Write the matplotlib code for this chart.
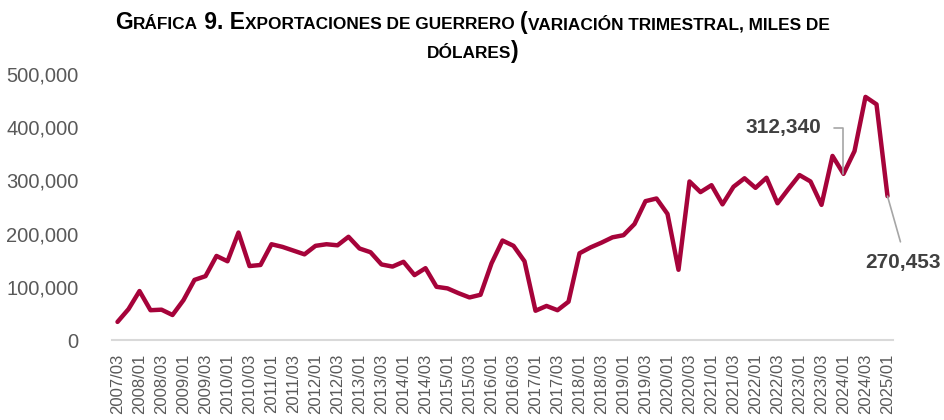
import matplotlib

matplotlib.use("Agg")
import matplotlib.pyplot as plt
import numpy as np

# ---- data (miles de dólares, trimestral 2007/03 .. 2025/01) -----------------
periods = [f"{y}/{q:02d}" for y in range(2007, 2026) for q in (1, 2, 3, 4)]
periods = periods[periods.index("2007/03"):periods.index("2025/01") + 1]
exports = [
    34000, 58000, 92000, 56000, 57000, 47000, 75000, 113000, 120000, 158000,
    148000, 202000, 139000, 141000, 180000, 175000, 168000, 161000, 177000, 180000,
    178000, 194000, 172000, 165000, 142000, 138000, 147000, 122000, 135000, 100000,
    97000, 88000, 80000, 85000, 144000, 187000, 177000, 148000, 55000, 64000,
    56000, 72000, 163000, 174000, 183000, 193000, 197000, 218000, 261000, 266000,
    237000, 132000, 298000, 278000, 291000, 255000, 288000, 304000, 286000, 305000,
    257000, 284000, 310000, 298000, 254000, 346000, 312340, 355000, 457000, 443000,
    270453,
]
y_ticks = [0, 100000, 200000, 300000, 400000, 500000]
callouts = ["2024/01", "2025/01"]

LINE = "#A6033A"
TICK = "#595959"
LABEL = "#404040"
LEADER = "#A6A6A6"
AXIS = "#D9D9D9"
SANS = ["Liberation Sans", "DejaVu Sans"]
NARROW = ["Liberation Sans Narrow", "Liberation Sans", "DejaVu Sans"]

plt.rcParams["font.family"] = SANS

fig = plt.figure(figsize=(9.45, 4.2), dpi=100)
ax = fig.add_axes((112 / 945, 1 - 340 / 420, 781 / 945, 266 / 420))

x = np.arange(len(exports))
ax.plot(x, exports, color=LINE, lw=3.2, solid_joinstyle="round", solid_capstyle="round", zorder=3)

ax.set_xlim(-0.5, len(exports) - 0.5)
ax.set_ylim(0, 500000)
ax.set_yticks(y_ticks)
ax.set_yticklabels([f"{v:,}" for v in y_ticks], fontsize=14.5, color=TICK)
ax.set_xticks(x[::2])
ax.set_xticklabels(periods[::2], rotation=90, fontsize=12, color=TICK)
ax.tick_params(axis="y", length=0, pad=24)
ax.tick_params(axis="x", length=0, pad=10)
for side in ("top", "right", "left"):
    ax.spines[side].set_visible(False)
ax.spines["bottom"].set_color(AXIS)
ax.spines["bottom"].set_linewidth(1.5)

# callouts with grey leaders
i1 = periods.index(callouts[0])
ax.annotate(
    f"{exports[i1]:,}", xy=(i1, exports[i1]), xytext=(-22, 46), textcoords="offset pixels",
    ha="right", va="center", fontsize=15, fontweight="bold", color=LABEL,
    arrowprops=dict(arrowstyle="-", color=LEADER, lw=1.2, relpos=(1, 0.5),
                    connectionstyle="angle,angleA=0,angleB=90,rad=0", shrinkA=7, shrinkB=0),
)
i2 = periods.index(callouts[1])
ax.annotate(
    f"{exports[i2]:,}", xy=(i2, exports[i2]), xytext=(16, -66), textcoords="offset pixels",
    ha="center", va="center", fontsize=15, fontweight="bold", color=LABEL, annotation_clip=False,
    arrowprops=dict(arrowstyle="-", color=LEADER, lw=1.2, relpos=(0.5, 1), shrinkA=6, shrinkB=0),
)

# title in small caps: (text, is_big) runs, laid out per line
title_lines = [
    [("G", True), ("RÁFICA", False), (" 9. E", True), ("XPORTACIONES DE GUERRERO ", False),
     ("(", True), ("VARIACIÓN TRIMESTRAL, MILES DE", False)],
    [("DÓLARES", False), (")", True)],
]
BIG, SMALL = 16.5, 12.4
renderer = fig.canvas.get_renderer()
for line, base_px in zip(title_lines, (29, 58)):
    texts = []
    for s, big in line:
        t = fig.text(0, 1 - base_px / 420, s, fontsize=BIG if big else SMALL, fontweight="bold",
                     family=NARROW, color="#000000", ha="left", va="baseline")
        texts.append(t)
    widths = [t.get_window_extent(renderer).width for t in texts]
    x0 = (945 - sum(widths)) / 2
    for t, w in zip(texts, widths):
        t.set_x(x0 / 945)
        x0 += w

fig.savefig("out.png", dpi=100, facecolor="white")
